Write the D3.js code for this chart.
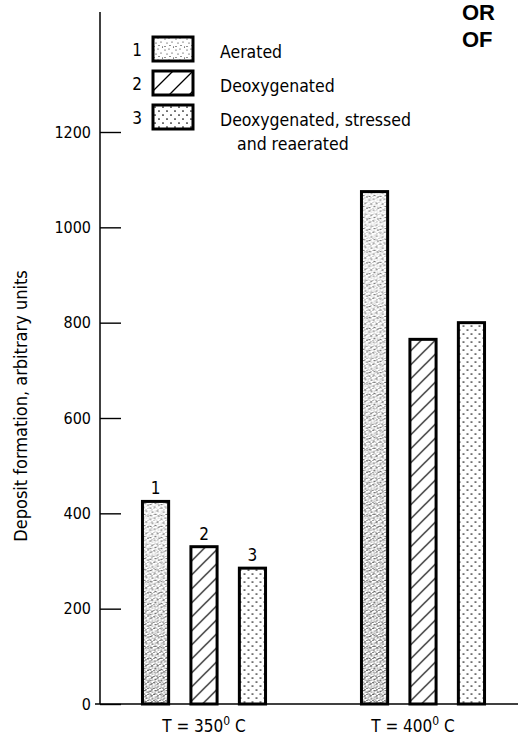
<!DOCTYPE html>
<meta charset="utf-8">
<script src="https://d3js.org/d3.v7.min.js"></script>
<style>
body { margin: 0; background: #fff; }
text {
	font-family: "DejaVu Sans Condensed", "DejaVu Sans", sans-serif;
	font-stretch: condensed;
	fill: #000;
}
.stamp { font-family: "Liberation Sans", Arial, sans-serif; font-weight: bold; font-stretch: normal; }
</style>
<body>
<div id="chart"></div>
</body>
<script>

// chart values
const temps = ["350", "400"];
const series = ["Aerated", "Deoxygenated", "Deoxygenated, stressed"];
const seriesExtra = ["", "", "and reaerated"];
const seriesNum = ["1", "2", "3"];
const values350 = [425, 330, 285];
const values400 = [1075, 765, 800];
const yTicks = [0, 200, 400, 600, 800, 1000, 1200];

const W = 518, H = 738;
const axisX = 100, baseY = 704;

const svg = d3.select("#chart")
	.append("svg")
	.attr("width", W)
	.attr("height", H);

// ---- fill patterns (the old print screens) ----
const defs = svg.append("defs");

function dotPattern(id, size, dots, r, bg) {
	const p = defs.append("pattern")
		.attr("id", id)
		.attr("patternUnits", "userSpaceOnUse")
		.attr("width", size)
		.attr("height", size);
	if (bg) p.append("rect").attr("width", size).attr("height", size).attr("fill", bg);
	p.selectAll("circle").data(dots).enter().append("circle")
		.attr("cx", d => d[0]).attr("cy", d => d[1]).attr("r", r).attr("fill", "#000");
}
dotPattern("stippleLight", 11, [[1,2],[5,1],[8,5],[3,6],[6,8.5],[1,9.5],[9.5,10]], 0.55, "#fff");
dotPattern("stippleDense", 6, [[1,1],[4,2],[5.5,4.5],[2,4],[3.5,5.5],[0.3,3],[3,0.2]], 0.6, null);
dotPattern("dotsSparse", 8, [[2,2],[6,6]], 0.85, "#fff");

const hatch = defs.append("pattern")
	.attr("id", "hatch")
	.attr("patternUnits", "userSpaceOnUse")
	.attr("width", 14)
	.attr("height", 14);
hatch.append("rect").attr("width", 14).attr("height", 14).attr("fill", "#fff");
hatch.append("path")
	.attr("d", "M0,14L14,0M-3,3L3,-3M11,17L17,11")
	.attr("stroke", "#000")
	.attr("stroke-width", 1.2);

const legHatch = defs.append("pattern")
	.attr("id", "hatchLegend")
	.attr("patternUnits", "userSpaceOnUse")
	.attr("width", 20)
	.attr("height", 20);
legHatch.append("rect").attr("width", 20).attr("height", 20).attr("fill", "#fff");
legHatch.append("path")
	.attr("d", "M0,20L20,0M-5,5L5,-5M15,25L25,15")
	.attr("stroke", "#000")
	.attr("stroke-width", 1.3);

// darker stipple toward the bottom of the aerated bars
const grad = defs.append("linearGradient")
	.attr("id", "fadeUp")
	.attr("x1", 0).attr("y1", 0).attr("x2", 0).attr("y2", 1);
grad.append("stop").attr("offset", "0%").attr("stop-color", "#fff").attr("stop-opacity", 0.3);
grad.append("stop").attr("offset", "100%").attr("stop-color", "#fff").attr("stop-opacity", 1);
defs.append("mask")
	.attr("id", "fadeMask")
	.attr("maskContentUnits", "objectBoundingBox")
	.append("rect").attr("width", 1).attr("height", 1).attr("fill", "url(#fadeUp)");

const fills = ["url(#stippleLight)", "url(#hatch)", "url(#dotsSparse)"];
const legendFills = ["url(#stippleLight)", "url(#hatchLegend)", "url(#dotsSparse)"];

// ---- scales ----
const y = d3.scaleLinear().domain([0, 1200]).range([baseY, 132]);

const x0 = d3.scaleBand()
	.domain(temps)
	.range([94.5, 532.5]);

const x1 = d3.scaleBand()
	.domain(d3.range(series.length))
	.range([0, x0.bandwidth()])
	.paddingInner(0.46)
	.paddingOuter(0.99);

const data = temps.map((t, gi) => ({
	temp: t,
	values: (gi === 0 ? values350 : values400)
}));

// ---- axis ----
const yAxis = d3.axisLeft(y)
	.tickValues(yTicks)
	.tickFormat(d3.format("d"))
	.tickSizeInner(-21)
	.tickSizeOuter(0)
	.tickPadding(9);

const gy = svg.append("g")
	.attr("transform", `translate(${axisX},0)`)
	.call(yAxis);
gy.select(".domain").remove();
gy.selectAll(".tick line").attr("stroke", "#000").attr("stroke-width", 1.4);
gy.selectAll(".tick text")
	.attr("font-size", 16)
	.attr("font-family", null)
	.attr("fill", "#000");

// vertical axis runs above the top tick
svg.append("line")
	.attr("x1", axisX).attr("x2", axisX)
	.attr("y1", 12).attr("y2", baseY)
	.attr("stroke", "#000").attr("stroke-width", 1.5);

// base line
svg.append("line")
	.attr("x1", axisX - 5).attr("x2", W)
	.attr("y1", baseY).attr("y2", baseY)
	.attr("stroke", "#000").attr("stroke-width", 1.6);

svg.append("text")
	.attr("transform", "translate(27,406) rotate(-90)")
	.attr("text-anchor", "middle")
	.attr("font-size", 18)
	.text("Deposit formation, arbitrary units");

// ---- bars ----
const grp = svg.selectAll("g.grp")
	.data(data)
	.enter()
	.append("g")
	.attr("class", "grp")
	.attr("transform", d => `translate(${x0(d.temp)},0)`);

const bar = grp.selectAll("g.bar")
	.data(d => d.values.map((v, i) => ({i: i, v: v})))
	.enter()
	.append("g")
	.attr("class", "bar");

bar.append("rect")
	.attr("x", d => x1(d.i))
	.attr("y", d => y(d.v))
	.attr("width", x1.bandwidth())
	.attr("height", d => baseY - y(d.v))
	.attr("fill", d => fills[d.i]);

bar.filter(d => d.i === 0)
	.append("rect")
	.attr("x", d => x1(d.i))
	.attr("y", d => y(d.v))
	.attr("width", x1.bandwidth())
	.attr("height", d => baseY - y(d.v))
	.attr("fill", "url(#stippleDense)")
	.attr("mask", "url(#fadeMask)");

bar.append("rect")
	.attr("x", d => x1(d.i))
	.attr("y", d => y(d.v))
	.attr("width", x1.bandwidth())
	.attr("height", d => baseY - y(d.v))
	.attr("fill", "none")
	.attr("stroke", "#000")
	.attr("stroke-width", 3);

// numbers over the first group
grp.filter((d, gi) => gi === 0)
	.selectAll("text.num")
	.data(d => d.values.map((v, i) => ({i: i, v: v})))
	.enter()
	.append("text")
	.attr("class", "num")
	.attr("x", d => x1(d.i) + x1.bandwidth() / 2)
	.attr("y", d => y(d.v) - 7)
	.attr("text-anchor", "middle")
	.attr("font-size", 17)
	.text(d => seriesNum[d.i]);

// group labels, T = 350^0 C
const glab = grp.append("text")
	.attr("x", (d, gi) => x0.bandwidth() / 2 - gi * 10)
	.attr("y", 732)
	.attr("text-anchor", "middle")
	.attr("font-size", 17);
glab.append("tspan").text(d => "T = " + d.temp);
glab.append("tspan").attr("dy", -7).attr("font-size", 12).text("0");
glab.append("tspan").attr("dy", 7).text(" C");

// ---- legend ----
const leg = svg.selectAll("g.leg")
	.data(series)
	.enter()
	.append("g")
	.attr("class", "leg")
	.attr("transform", (d, i) => `translate(153,${37 + i * 34})`);

leg.append("rect")
	.attr("width", 40)
	.attr("height", 24)
	.attr("fill", (d, i) => legendFills[i])
	.attr("stroke", "#000")
	.attr("stroke-width", 3);

leg.append("text")
	.attr("x", -11)
	.attr("y", 19)
	.attr("text-anchor", "end")
	.attr("font-size", 17)
	.text((d, i) => seriesNum[i]);

leg.append("text")
	.attr("x", 67)
	.attr("y", 21)
	.attr("font-size", 17.5)
	.text(d => d);

leg.append("text")
	.attr("x", 84)
	.attr("y", 45)
	.attr("font-size", 17.5)
	.text((d, i) => seriesExtra[i]);

// stamp at the page corner
svg.append("text").attr("class", "stamp")
	.attr("x", 462).attr("y", 20).attr("font-size", 22)
	.text("OR");
svg.append("text").attr("class", "stamp")
	.attr("x", 462).attr("y", 47).attr("font-size", 22)
	.text("OF");

</script>
